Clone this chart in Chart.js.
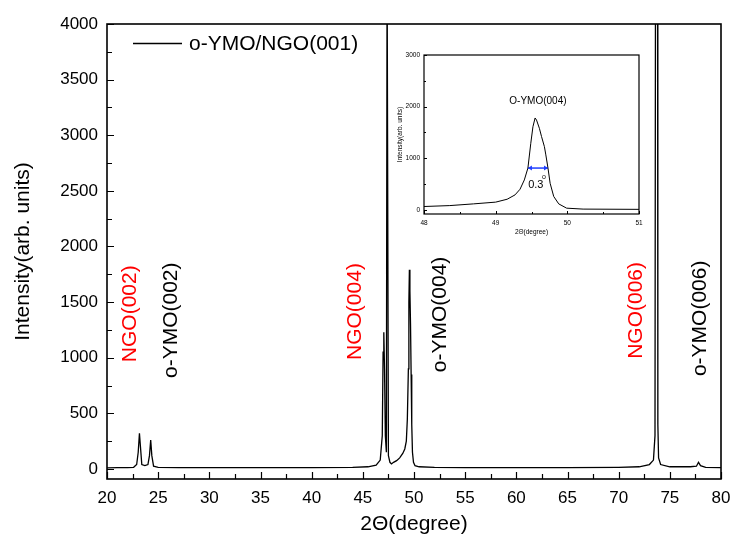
<!DOCTYPE html>
<html>
<head>
<meta charset="utf-8">
<script src="https://cdn.jsdelivr.net/npm/chart.js@4.4.1/dist/chart.umd.min.js"></script>
<style>
  html, body { margin: 0; padding: 0; background: #fff; }
  #wrap { position: relative; width: 733px; height: 545px; }
  #mainChart { position: absolute; left: 0; top: 0; }
  #insetChart { position: absolute; left: 380px; top: 40px; }
</style>
</head>
<body>
<div id="wrap">
  <canvas id="mainChart" width="733" height="545"></canvas>
  <canvas id="insetChart" width="270" height="200"></canvas>
</div>
<script>
// XRD scan, o-YMO film on NGO(001)
const mainTwoTheta = [20.0, 21.0, 22.0, 22.6, 22.9, 23.05, 23.17, 23.27, 23.4, 23.7, 24.0, 24.15, 24.27, 24.38, 24.55, 25.0, 27.0,
    30.0, 35.0, 40.0, 44.0, 45.5, 46.3, 46.7, 46.9, 46.98, 47.05, 47.12, 47.2, 47.3, 47.37, 47.43, 47.5, 47.65, 47.8, 48.0,
    48.3, 48.6, 48.9, 49.1, 49.25, 49.35, 49.45, 49.5, 49.55, 49.6, 49.66, 49.72, 49.78, 49.85, 49.95, 50.1, 50.5, 52.0,
    55.0, 60.0, 65.0, 70.0, 72.0, 73.0, 73.4, 73.55, 73.6, 73.8, 73.83, 73.9, 74.1, 75.0, 77.0, 77.6, 77.8, 78.0, 78.5, 80.0];
const mainIntensity = [10, 12, 12, 15, 40, 150, 320, 200, 40, 30, 40, 120, 260, 120, 25, 15, 12,
    12, 12, 12, 15, 20, 35, 80, 300, 1050, 1230, 900, 300, 150, 4600, 4600, 120, 60, 45, 60,
    75, 100, 140, 180, 250, 450, 900, 1500, 1790, 1600, 1300, 850, 400, 150, 60, 30, 20, 15,
    12, 12, 12, 15, 20, 40, 80, 300, 4600, 4600, 400, 100, 40, 20, 20, 25, 60, 30, 15, 12];

// inset: zoom on the o-YMO(004) reflection
const insetTwoTheta = [48.0, 48.36, 48.69, 49.0, 49.16, 49.27, 49.34, 49.4, 49.45, 49.49, 49.52, 49.55, 49.57, 49.61,
    49.64, 49.68, 49.7, 49.73, 49.76, 49.81, 49.88, 49.99, 50.22, 51.0];
const insetIntensity = [65, 83, 116, 150, 206, 290, 400, 580, 810, 1290, 1610, 1780, 1740, 1580,
    1420, 1225, 1065, 810, 515, 260, 116, 33, 15, 10];
const fwhmTwoTheta = [49.45, 49.73];
const fwhmIntensity = [810, 810];

// tick values
const xTickValues = [20, 25, 30, 35, 40, 45, 50, 55, 60, 65, 70, 75, 80];
const xMinorTicks = [22.5, 27.5, 32.5, 37.5, 42.5, 47.5, 52.5, 57.5, 62.5, 67.5, 72.5, 77.5];
const yTickValues = [0, 500, 1000, 1500, 2000, 2500, 3000, 3500, 4000];
const yMinorTicks = [250, 750, 1250, 1750, 2250, 2750, 3250, 3750];
const insetXTicks = [48, 49, 50, 51];
const insetXMinor = [48.5, 49.5, 50.5];
const insetYTicks = [0, 1000, 2000, 3000];
const insetYMinor = [500, 1500, 2500];

// peak labels (text, 2theta, intensity where text starts, colour)
const peakNames = ['NGO(002)', 'o-YMO(002)', 'NGO(004)', 'o-YMO(004)', 'NGO(006)', 'o-YMO(006)'];
const peakNameX = [22.25, 26.25, 44.25, 52.6, 71.7, 78.0];
const peakNameY = [960, 818, 980, 870, 990, 835];
const peakNameColor = ['#ff0000', '#000000', '#ff0000', '#000000', '#ff0000', '#000000'];

const FONT = '"Liberation Sans", Arial, Helvetica, sans-serif';

function toPoints(xs, ys) {
    return xs.map((x, i) => ({ x: x, y: ys[i] }));
}

// plain numbers, no thousands separator
const plainLabel = v => String(v);

// keep the plot box exactly where it is in the original
function noPad(s) {
    s.paddingLeft = 0;
    s.paddingRight = 0;
    s.paddingTop = 0;
    s.paddingBottom = 0;
}

// frame + inward ticks, origin style
const framePlugin = {
    id: 'frame',
    afterDraw(chart, args, opts) {
        const ctx = chart.ctx;
        const a = chart.chartArea;
        const xs = chart.scales.x;
        const ys = chart.scales.y;
        ctx.save();
        ctx.strokeStyle = '#000';
        ctx.lineWidth = opts.lineWidth;
        ctx.strokeRect(a.left, a.top, a.right - a.left, a.bottom - a.top);
        ctx.beginPath();
        opts.xMajor.forEach(v => {
            const px = Math.round(xs.getPixelForValue(v)) + 0.5;
            ctx.moveTo(px, a.bottom);
            ctx.lineTo(px, a.bottom - opts.major);
        });
        opts.xMinor.forEach(v => {
            const px = Math.round(xs.getPixelForValue(v)) + 0.5;
            ctx.moveTo(px, a.bottom);
            ctx.lineTo(px, a.bottom - opts.minor);
        });
        opts.yMajor.forEach(v => {
            const py = Math.round(ys.getPixelForValue(v)) + 0.5;
            ctx.moveTo(a.left, py);
            ctx.lineTo(a.left + opts.major, py);
        });
        opts.yMinor.forEach(v => {
            const py = Math.round(ys.getPixelForValue(v)) + 0.5;
            ctx.moveTo(a.left, py);
            ctx.lineTo(a.left + opts.minor, py);
        });
        ctx.lineWidth = opts.tickWidth;
        ctx.stroke();
        ctx.restore();
    }
};

// legend and rotated peak names on the main plot
const mainTextPlugin = {
    id: 'mainText',
    afterDraw(chart) {
        const ctx = chart.ctx;
        const xs = chart.scales.x;
        const ys = chart.scales.y;
        ctx.save();
        // legend
        ctx.strokeStyle = '#000';
        ctx.lineWidth = 1.3;
        ctx.beginPath();
        ctx.moveTo(133, 43.5);
        ctx.lineTo(182, 43.5);
        ctx.stroke();
        ctx.font = '21px ' + FONT;
        ctx.fillStyle = '#000';
        ctx.textBaseline = 'middle';
        ctx.textAlign = 'left';
        ctx.fillText('o-YMO/NGO(001)', 189, 44);
        // peak names
        peakNames.forEach((name, i) => {
            ctx.save();
            ctx.translate(xs.getPixelForValue(peakNameX[i]), ys.getPixelForValue(peakNameY[i]));
            ctx.rotate(-Math.PI / 2);
            ctx.fillStyle = peakNameColor[i];
            ctx.fillText(name, 0, 0);
            ctx.restore();
        });
        ctx.restore();
    }
};

const insetTextPlugin = {
    id: 'insetText',
    afterDraw(chart) {
        const ctx = chart.ctx;
        const xs = chart.scales.x;
        const ys = chart.scales.y;
        ctx.save();
        ctx.fillStyle = '#000';
        ctx.textAlign = 'center';
        ctx.textBaseline = 'middle';
        ctx.font = '10px ' + FONT;
        ctx.fillText('O-YMO(004)', xs.getPixelForValue(49.59), ys.getPixelForValue(2095));
        ctx.font = '11px ' + FONT;
        ctx.fillText('0.3', xs.getPixelForValue(49.56), ys.getPixelForValue(484));
        ctx.font = '7px ' + FONT;
        ctx.fillText('o', xs.getPixelForValue(49.675), ys.getPixelForValue(640));
        // arrow heads on the FWHM bar
        const y = ys.getPixelForValue(fwhmIntensity[0]);
        const x1 = xs.getPixelForValue(fwhmTwoTheta[0]);
        const x2 = xs.getPixelForValue(fwhmTwoTheta[1]);
        ctx.fillStyle = '#1f3fff';
        ctx.beginPath();
        ctx.moveTo(x1, y);
        ctx.lineTo(x1 + 4, y - 2.5);
        ctx.lineTo(x1 + 4, y + 2.5);
        ctx.closePath();
        ctx.moveTo(x2, y);
        ctx.lineTo(x2 - 4, y - 2.5);
        ctx.lineTo(x2 - 4, y + 2.5);
        ctx.closePath();
        ctx.fill();
        ctx.restore();
    }
};

new Chart(document.getElementById('mainChart'), {
    type: 'line',
    data: {
        datasets: [{
            label: 'o-YMO/NGO(001)',
            data: toPoints(mainTwoTheta, mainIntensity),
            borderColor: '#000',
            borderWidth: 1.3,
            pointRadius: 0,
            tension: 0
        }]
    },
    options: {
        responsive: false,
        animation: false,
        events: [],
        layout: { padding: { top: 24, right: 12, left: 0, bottom: 0 } },
        plugins: {
            legend: { display: false },
            tooltip: { enabled: false },
            frame: {
                lineWidth: 1.6, tickWidth: 1.2, major: 7, minor: 5,
                xMajor: xTickValues, xMinor: xMinorTicks, yMajor: yTickValues, yMinor: yMinorTicks
            }
        },
        scales: {
            x: {
                type: 'linear',
                min: 20,
                max: 80,
                grid: { display: false, drawTicks: false },
                border: { display: false },
                afterBuildTicks: s => { s.ticks = xTickValues.map(v => ({ value: v })); },
                afterFit: s => { s.height = 66; noPad(s); },
                ticks: { color: '#000', padding: 9, maxRotation: 0, callback: plainLabel, font: { family: FONT, size: 17 } },
                title: {
                    display: true, text: '2\u0398(degree)', color: '#000',
                    font: { family: FONT, size: 21 }, padding: { top: 0, bottom: 8 }
                }
            },
            y: {
                min: -90,
                max: 4000,
                grid: { display: false, drawTicks: false },
                border: { display: false },
                afterBuildTicks: s => { s.ticks = yTickValues.map(v => ({ value: v })); },
                afterFit: s => { s.width = 107; noPad(s); },
                ticks: { color: '#000', padding: 9, callback: plainLabel, font: { family: FONT, size: 17 } },
                title: {
                    display: true, text: 'Intensity(arb. units)', color: '#000',
                    font: { family: FONT, size: 21 }, padding: { top: 11, bottom: 0 }
                }
            }
        }
    },
    plugins: [framePlugin, mainTextPlugin]
});

new Chart(document.getElementById('insetChart'), {
    type: 'line',
    data: {
        datasets: [{
            label: 'O-YMO(004)',
            data: toPoints(insetTwoTheta, insetIntensity),
            borderColor: '#000',
            borderWidth: 1,
            pointRadius: 0,
            tension: 0
        }, {
            label: 'FWHM',
            data: toPoints(fwhmTwoTheta, fwhmIntensity),
            borderColor: '#1f3fff',
            borderWidth: 1.5,
            pointRadius: 0,
            tension: 0
        }]
    },
    options: {
        responsive: false,
        animation: false,
        events: [],
        layout: { padding: { top: 15, right: 11, left: 0, bottom: 0 } },
        plugins: {
            legend: { display: false },
            tooltip: { enabled: false },
            frame: {
                lineWidth: 1.2, tickWidth: 1, major: 3, minor: 2,
                xMajor: insetXTicks, xMinor: insetXMinor, yMajor: insetYTicks, yMinor: insetYMinor
            }
        },
        scales: {
            x: {
                type: 'linear',
                min: 48,
                max: 51,
                grid: { display: false, drawTicks: false },
                border: { display: false },
                afterBuildTicks: s => { s.ticks = insetXTicks.map(v => ({ value: v })); },
                afterFit: s => { s.height = 26; noPad(s); },
                ticks: { color: '#000', padding: 5, maxRotation: 0, callback: plainLabel, font: { family: FONT, size: 6.5 } },
                title: {
                    display: true, text: '2\u0398(degree)', color: '#000',
                    font: { family: FONT, size: 6.5 }, padding: { top: 0, bottom: 4 }
                }
            },
            y: {
                min: -80,
                max: 3000,
                grid: { display: false, drawTicks: false },
                border: { display: false },
                afterBuildTicks: s => { s.ticks = insetYTicks.map(v => ({ value: v })); },
                afterFit: s => { s.width = 44; noPad(s); },
                ticks: { color: '#000', padding: 4, callback: plainLabel, font: { family: FONT, size: 6.5 } },
                title: {
                    display: true, text: 'Intensity(arb. units)', color: '#000',
                    font: { family: FONT, size: 6.5 }, padding: { top: 16, bottom: 0 }
                }
            }
        }
    },
    plugins: [framePlugin, insetTextPlugin]
});
</script>
</body>
</html>
